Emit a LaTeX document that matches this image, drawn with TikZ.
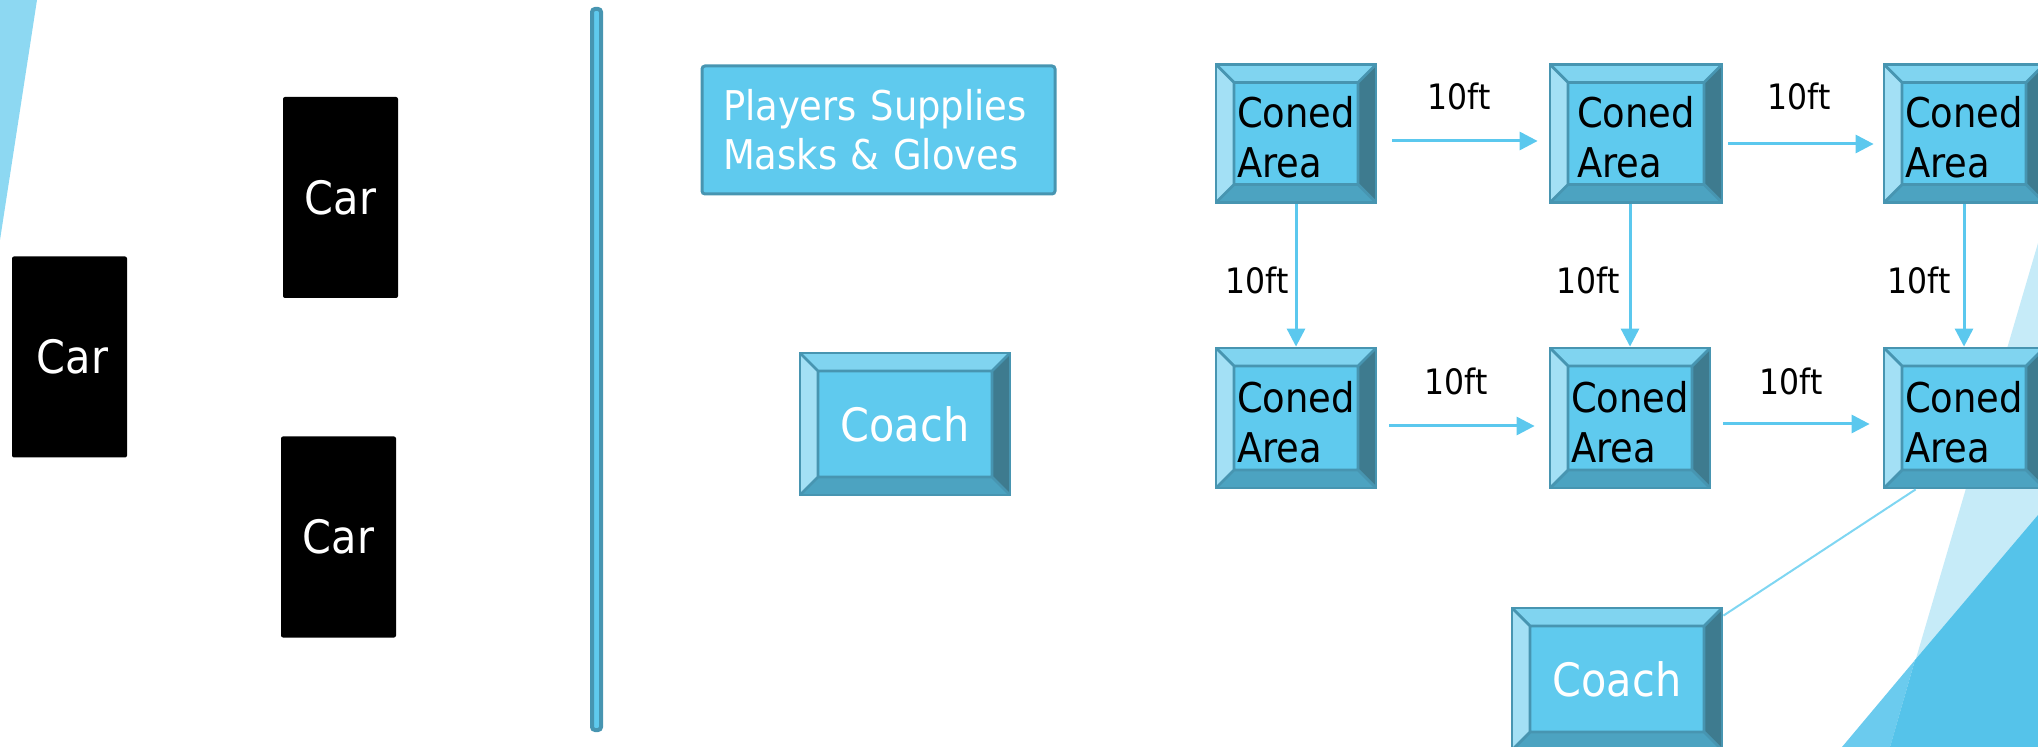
\documentclass[tikz,border=0pt]{standalone}
\usepackage{fontspec}
\setmainfont[FakeStretch=0.9]{DejaVu Sans}
\usetikzlibrary{arrows.meta,calc}

% palette
\definecolor{face}{HTML}{5FCAEE}
\definecolor{bevtopc}{HTML}{80D4F0}
\definecolor{bevleftc}{HTML}{A3E0F5}
\definecolor{bevrightc}{HTML}{3E7B8F}
\definecolor{bevbotc}{HTML}{4CA3C1}
\definecolor{edge}{HTML}{4795B1}
\definecolor{arrowblue}{HTML}{5BC8EE}
\definecolor{linkblue}{HTML}{7FD6F2}
\definecolor{cornerblue}{HTML}{8DD8F2}
\definecolor{palefacet}{HTML}{C6EBF8}
\definecolor{midfacet}{HTML}{6BCBEE}
\definecolor{deepfacet}{HTML}{55C3EA}

\newcommand\conefont{\fontsize{20.5pt}{25pt}\selectfont}
\newcommand\supfont{\fontsize{20.5pt}{24.5pt}\selectfont}
\newcommand\bigfont{\fontsize{23pt}{27pt}\selectfont}
\newcommand\lblfont{\fontsize{17.5pt}{21pt}\selectfont}
\newcommand\bev{9pt}

\tikzset{
  bevelbox/.style={draw=edge, line width=1.4pt, fill=face, inner sep=0pt,
    path picture={
      \coordinate (pNW) at (path picture bounding box.north west);
      \coordinate (pNE) at (path picture bounding box.north east);
      \coordinate (pSW) at (path picture bounding box.south west);
      \coordinate (pSE) at (path picture bounding box.south east);
      \coordinate (qNW) at ([shift={(\bev,-\bev)}]pNW);
      \coordinate (qNE) at ([shift={(-\bev,-\bev)}]pNE);
      \coordinate (qSW) at ([shift={(\bev,\bev)}]pSW);
      \coordinate (qSE) at ([shift={(-\bev,\bev)}]pSE);
      \fill[bevtopc] (pNW) -- (pNE) -- (qNE) -- (qNW) -- cycle;
      \fill[bevleftc] (pNW) -- (qNW) -- (qSW) -- (pSW) -- cycle;
      \fill[bevrightc] (pNE) -- (pSE) -- (qSE) -- (qNE) -- cycle;
      \fill[bevbotc] (pSW) -- (qSW) -- (qSE) -- (pSE) -- cycle;
      \draw[edge, line width=1.4pt] (pNW) -- (qNW) (pNE) -- (qNE)
        (pSW) -- (qSW) (pSE) -- (qSE) (qNW) rectangle (qSE);
    }},
  conebox/.style={bevelbox, align=left, font=\conefont, text=black,
    minimum width=80pt, minimum height=69pt},
  coachbox/.style={bevelbox, font=\bigfont, text=white,
    minimum width=105pt, minimum height=71pt},
  carbox/.style={fill=black, rounded corners=1pt, font=\bigfont, text=white,
    minimum width=57.5pt, minimum height=100.5pt, inner sep=0pt},
  supplybox/.style={draw=edge, line width=1.5pt, fill=face, rounded corners=1.5pt,
    text=white, font=\supfont, align=left, text width=155.5pt,
    inner xsep=10.5pt, minimum height=64pt},
  barbox/.style={draw=edge, line width=2pt, fill=face, rounded corners=1.5pt,
    minimum width=4.5pt, minimum height=360.5pt, inner sep=0pt},
  arr/.style={draw=arrowblue, line width=1.5pt, -{Triangle[length=9pt,width=9pt]}},
  lbl/.style={font=\lblfont, text=black, inner sep=0pt},
  link/.style={draw=linkblue, line width=1pt},
}

\begin{document}
\begin{tikzpicture}[x=0.5pt,y=-0.5pt]
\useasboundingbox (0,0) rectangle (2038,747);
\clip (0,0) rectangle (2038,747);

% background facets
\fill[cornerblue] (0,0) -- (37,0) -- (0,240) -- cycle;
\fill[palefacet] (2038,243) -- (1890,747) -- (2038,747) -- cycle;
\fill[midfacet] (1842,747) -- (1915,660) -- (1890,747) -- cycle;
\fill[deepfacet] (1915,660) -- (2038,515) -- (2038,747) -- (1890,747) -- cycle;

% parked cars
\node[carbox] (carA) at (69.5,357) {\hspace*{3pt}Car};
\node[carbox] (carB) at (340.5,197.5) {Car};
\node[carbox] (carC) at (338.5,537) {Car};

% divider
\node[barbox] (bar) at (596.5,369.5) {};

% supplies and coach
\node[supplybox] (supplies) at (878.5,130) {Players Supplies\\Masks \& Gloves};
\node[coachbox] (coachA) at (905,424) {Coach};

% coned grid
\node[conebox] (r1c1) at (1296,133.5) {\rule{0pt}{19.6pt}Coned\\Area};
\node[conebox, minimum width=86pt] (r1c2) at (1636,133.5) {\rule{0pt}{19.6pt}Coned\\Area};
\node[conebox] (r1c3) at (1964,133.5) {\rule{0pt}{19.6pt}Coned\\Area};
\node[conebox, minimum height=70pt] (r2c1) at (1296,418) {\rule{0pt}{19.6pt}Coned\\Area};
\node[conebox, minimum height=70pt] (r2c2) at (1630,418) {\rule{0pt}{19.6pt}Coned\\Area};
\node[conebox, minimum height=70pt] (r2c3) at (1964,418) {\rule{0pt}{19.6pt}Coned\\Area};

\node[coachbox] (coachB) at (1617,679) {Coach};

% spacing arrows
\draw[arr, shorten <=7.5pt, shorten >=5.5pt] ([yshift=-3.75pt]r1c1.east) -- ([yshift=-3.75pt]r1c2.west);
\draw[arr, shorten <=2.5pt, shorten >=4.5pt] ([yshift=-5.25pt]r1c2.east) -- ([yshift=-5.25pt]r1c3.west);
\draw[arr, shorten <=6pt, shorten >=7pt] ([yshift=-4pt]r2c1.east) -- ([yshift=-4pt]r2c2.west);
\draw[arr, shorten <=6pt, shorten >=6.5pt] ([yshift=-3pt]r2c2.east) -- ([yshift=-3pt]r2c3.west);
\draw[arr] (r1c1.south) -- (r2c1.north);
\draw[arr] (r1c2.south -| r2c2.north) -- (r2c2.north);
\draw[arr] (r1c3.south) -- (r2c3.north);

% distance labels
\node[lbl] (d1) at (1459,96) {10ft};
\node[lbl] (d2) at (1799,96) {10ft};
\node[lbl] (d3) at (1257,280) {10ft};
\node[lbl] (d4) at (1588,280) {10ft};
\node[lbl] (d5) at (1919,280) {10ft};
\node[lbl] (d6) at (1456,381) {10ft};
\node[lbl] (d7) at (1791,381) {10ft};

% coach line of sight
\draw[link] ([yshift=-4.5pt]coachB.north east) -- ([xshift=16.5pt]r2c3.south west);
\end{tikzpicture}
\end{document}
